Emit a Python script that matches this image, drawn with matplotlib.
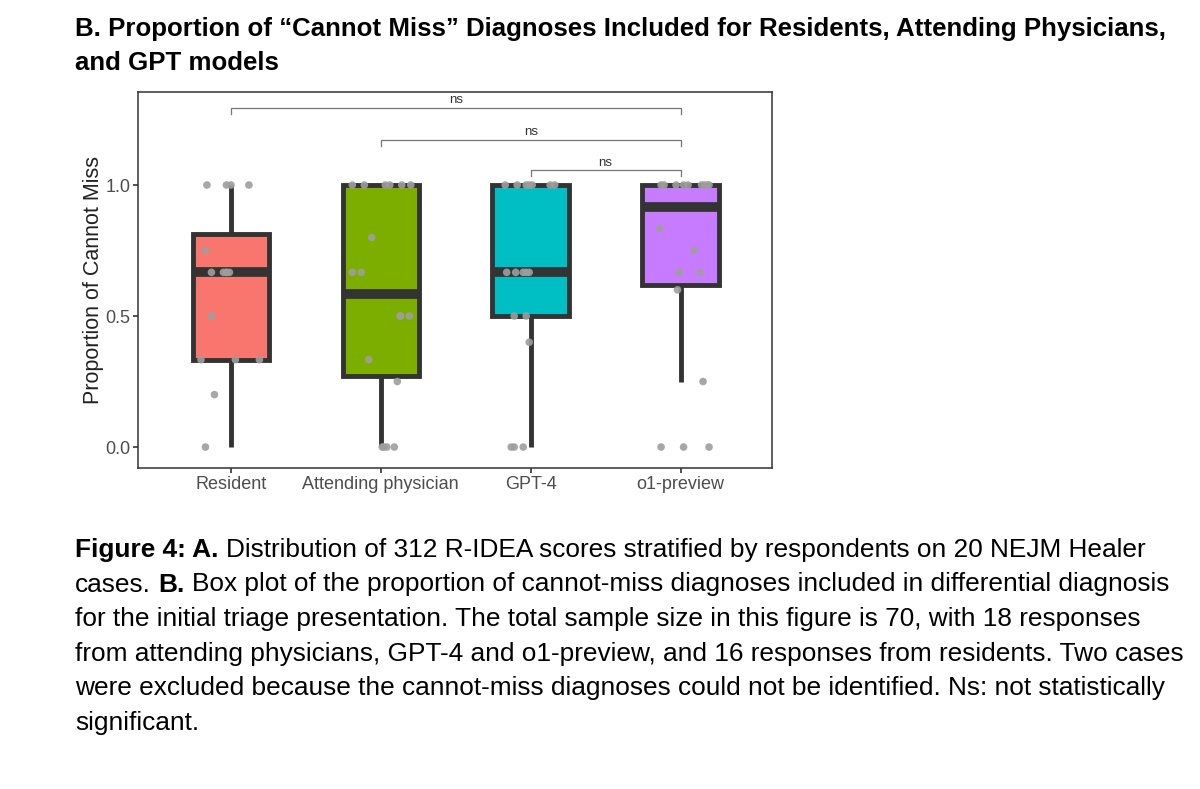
import numpy as np
import matplotlib.pyplot as plt

plt.rcParams['font.family'] = ['Liberation Sans', 'DejaVu Sans']

groups = ["Resident", "Attending physician", "GPT-4", "o1-preview"]
colors = ["#F8766D", "#7CAE00", "#00BFC4", "#C77CFF"]

# proportion of cannot-miss diagnoses per response, read off the points
resident = [1, 1, 1, 1, 0.75, 2/3, 2/3, 2/3, 2/3, 2/3, 0.5, 1/3, 1/3, 1/3, 0.2, 0]
attending = [1, 1, 1, 1, 1, 1, 0.8, 2/3, 2/3, 0.5, 0.5, 0.5, 1/3, 0.25, 0, 0, 0, 0]
gpt4 = [1, 1, 1, 1, 1, 1, 1, 2/3, 2/3, 2/3, 2/3, 2/3, 0.5, 0.5, 0.4, 0, 0, 0]
o1 = [1, 1, 1, 1, 1, 1, 1, 1, 1, 5/6, 0.75, 2/3, 2/3, 0.6, 0.25, 0, 0, 0]

# horizontal jitter of each point as seen in the picture
resident_jit = [-0.16, -0.03, 0.0, 0.12, -0.17, -0.13, -0.05, -0.03, -0.01, -0.03, -0.13, -0.2, 0.03, 0.19, -0.11, -0.17]
attending_jit = [-0.19, -0.11, 0.03, 0.06, 0.14, 0.2, -0.06, -0.19, -0.13, 0.13, 0.13, 0.19, -0.08, 0.11, 0.01, 0.02, 0.04, 0.09]
gpt4_jit = [-0.17, -0.09, -0.03, -0.01, 0.01, 0.13, 0.16, -0.16, -0.1, -0.05, -0.03, -0.01, -0.11, -0.03, -0.01, -0.13, -0.11, -0.05]
o1_jit = [-0.13, -0.11, -0.03, 0.02, 0.05, 0.14, 0.16, 0.18, 0.19, -0.14, 0.09, -0.01, 0.13, -0.02, 0.15, -0.13, 0.02, 0.19]

# significance brackets: (from group, to group, height)
brackets = [(1, 4, 1.294), (2, 4, 1.172), (3, 4, 1.057)]
bracket_labels = ["ns", "ns", "ns"]

data = [resident, attending, gpt4, o1]
jitters = [resident_jit, attending_jit, gpt4_jit, o1_jit]

W, H = 1200, 789
fig = plt.figure(figsize=(12, 7.89), dpi=100)
ax = fig.add_axes([138 / W, 1 - 468 / H, (772 - 138) / W, (468 - 92) / H])

dark = "#333333"
pos = np.arange(1, len(groups) + 1)
bp = ax.boxplot(data, positions=pos, widths=0.51, patch_artist=True,
                showcaps=False, showfliers=False,
                boxprops=dict(edgecolor=dark, linewidth=3.5),
                whiskerprops=dict(color=dark, linewidth=3.5, solid_capstyle="butt"),
                medianprops=dict(color=dark, linewidth=7, solid_capstyle="butt"))
for patch, c in zip(bp["boxes"], colors):
    patch.set_facecolor(c)

for p, vals, jit in zip(pos, data, jitters):
    ax.scatter(p + np.array(jit), vals, s=30, color="#9e9e9e", alpha=0.9,
               edgecolors="none", zorder=5)

tick = 0.023
for (a, b, h), lab in zip(brackets, bracket_labels):
    ax.plot([a, a, b, b], [h - tick, h, h, h - tick], color="#777777", lw=0.9)
    ax.text((a + b) / 2, h + 0.006, lab, ha="center", va="bottom", fontsize=9.5, color="#333333")

ax.set_xlim(0.38, 4.61)
ax.set_ylim(-0.08, 1.355)
ax.set_xticks(pos)
ax.set_xticklabels(groups)
ax.set_yticks([0, 0.5, 1.0])
ax.set_yticklabels(["0.0", "0.5", "1.0"])
ax.tick_params(labelsize=13, labelcolor="#4D4D4D", color=dark, width=1.2, length=3.5, pad=2)
ax.set_ylabel("Proportion of Cannot Miss", fontsize=15.5, color="#222222", labelpad=1)
for s in ax.spines.values():
    s.set_color(dark)
    s.set_linewidth(1.1)

# title above the panel
title_size = 18.6
fig.text(75 / W, 1 - 36 / H, "B. Proportion of \u201cCannot Miss\u201d Diagnoses Included for Residents, Attending Physicians,",
         fontsize=title_size, weight="bold", va="baseline")
fig.text(75 / W, 1 - 70 / H, "and GPT models", fontsize=title_size, weight="bold", va="baseline")

# caption with bold runs
caption = [
    [("Figure 4: A.", True), ("Distribution of 312 R-IDEA scores stratified by respondents on 20 NEJM Healer", False)],
    [("cases.", False), ("B.", True), ("Box plot of the proportion of cannot-miss diagnoses included in differential diagnosis", False)],
    [("for the initial triage presentation. The total sample size in this figure is 70, with 18 responses", False)],
    [("from attending physicians, GPT-4 and o1-preview, and 16 responses from residents. Two cases", False)],
    [("were excluded because the cannot-miss diagnoses could not be identified. Ns: not statistically", False)],
    [("significant.", False)],
]
cap_base = [557, 591.5, 626, 660.5, 695, 730]
cap_size = 18.9
space = 0.278 * cap_size * 100 / 72
renderer = fig.canvas.get_renderer()
for runs, yb in zip(caption, cap_base):
    x = 75
    for txt, bold in runs:
        t = fig.text(x / W, 1 - yb / H, txt, fontsize=cap_size,
                     weight="bold" if bold else "normal", va="baseline")
        x += t.get_window_extent(renderer).width + space

fig.savefig("out.png", dpi=100)
